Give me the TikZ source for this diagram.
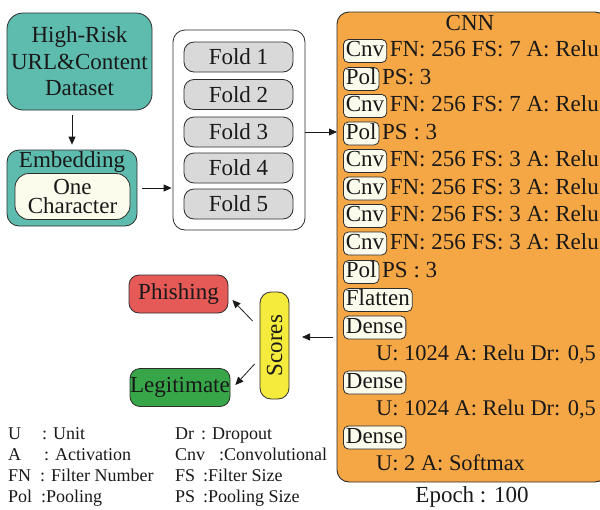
\documentclass[tikz,border=0pt]{standalone}
\usepackage{fontspec}
\setmainfont{Liberation Serif}
\usetikzlibrary{arrows.meta,calc}

\definecolor{dataTeal}{RGB}{94,188,174}
\definecolor{cnnOrange}{RGB}{245,166,69}
\definecolor{phishRed}{RGB}{229,90,87}
\definecolor{legitGreen}{RGB}{55,166,72}
\definecolor{scoreYellow}{RGB}{245,235,60}
\definecolor{creamFill}{RGB}{252,252,236}
\definecolor{foldGrey}{RGB}{217,217,217}
\definecolor{edgeDark}{RGB}{45,45,45}
\definecolor{inkDark}{RGB}{25,25,25}

\newcommand\bigtxt{\fontsize{23}{26.5}\selectfont}
\newcommand\unittxt{\fontsize{22.4}{26}\selectfont}
\newcommand\legtxt{\fontsize{18}{21}\selectfont}

\tikzset{
  box/.style={draw=edgeDark, line width=0.8pt, inner sep=0pt, align=center,
              font=\bigtxt, text=inkDark},
  datasetbox/.style={box, fill=dataTeal, rounded corners=16pt,
              minimum width=145pt, minimum height=97pt},
  embedbox/.style={box, fill=dataTeal, rounded corners=12pt,
              minimum width=130pt, minimum height=76pt},
  onebox/.style={box, fill=creamFill, rounded corners=14pt,
              minimum width=115pt, minimum height=46pt,
              font=\fontsize{23}{19}\selectfont},
  foldframe/.style={box, fill=white, rounded corners=12pt,
              minimum width=132pt, minimum height=200pt},
  foldbox/.style={box, fill=foldGrey, rounded corners=10pt,
              minimum width=109pt, minimum height=30pt},
  cnnframe/.style={draw=edgeDark, line width=0.9pt, fill=cnnOrange,
              rounded corners=12pt},
  lay/.style={box, fill=creamFill, rounded corners=5pt, anchor=west,
              inner xsep=2.5pt, inner ysep=1.5pt,
              text height=15.5pt, text depth=4.5pt},
  laytxt/.style={inner xsep=2.5pt, inner ysep=1.5pt, anchor=west,
              font=\bigtxt, text=inkDark,
              text height=15.5pt, text depth=4.5pt},
  unitline/.style={laytxt, inner xsep=0pt, font=\unittxt},
  plain/.style={inner sep=0pt, font=\bigtxt, text=inkDark},
  classbox/.style={box, rounded corners=10pt, minimum height=38pt},
  legabbr/.style={inner sep=0pt, anchor=base west, font=\legtxt, text=inkDark},
  arr/.style={draw=inkDark, line width=0.8pt,
              -{Triangle[length=8pt,width=7pt]}}
}

\begin{document}
\begin{tikzpicture}[x=1pt, y=-1pt]
\useasboundingbox (0,0) rectangle (600,509);

% input data and embedding
\node[datasetbox] (data) at (79.5,61.5) {High-Risk\\URL\&Content\\Dataset};
\node[embedbox] (emb) at (72,188) {};
\node[plain] (embtitle) at (72,162) {Embedding};
\node[onebox] (onechar) at (72.5,196.5) {One\\Character};

% cross-validation folds
\node[foldframe] (folds) at (239,130) {};
\node[foldbox] (f1) at (238.5,57) {Fold 1};
\node[foldbox] (f2) at (238.5,94.5) {Fold 2};
\node[foldbox] (f3) at (238.5,132) {Fold 3};
\node[foldbox] (f4) at (238.5,168) {Fold 4};
\node[foldbox] (f5) at (238.5,204) {Fold 5};

% CNN block
\draw[cnnframe] (337,12) rectangle (607,482);
\coordinate (cnnW) at (337,132);
\node[plain] (cnntitle) at (470,23) {CNN};

\node[lay] (r1) at (343,51) {Cnv};
\node[laytxt] at (r1.east) {FN: 256 FS: 7 A: Relu};
\node[lay] (r2) at (343,79) {Pol};
\node[laytxt] at (r2.east) {PS: 3};
\node[lay] (r3) at (343,106) {Cnv};
\node[laytxt] at (r3.east) {FN: 256 FS: 7 A: Relu};
\node[lay] (r4) at (343,133.5) {Pol};
\node[laytxt] at (r4.east) {PS : 3};
\node[lay] (r5) at (343,161) {Cnv};
\node[laytxt] at (r5.east) {FN: 256 FS: 3 A: Relu};
\node[lay] (r6) at (343,188.5) {Cnv};
\node[laytxt] at (r6.east) {FN: 256 FS: 3 A: Relu};
\node[lay] (r7) at (343,216) {Cnv};
\node[laytxt] at (r7.east) {FN: 256 FS: 3 A: Relu};
\node[lay] (r8) at (343,243.5) {Cnv};
\node[laytxt] at (r8.east) {FN: 256 FS: 3 A: Relu};
\node[lay] (r9) at (343,272) {Pol};
\node[laytxt] at (r9.east) {PS : 3};
\node[lay] (r10) at (343,300) {Flatten};
\node[lay] (r11) at (343,327.5) {Dense};
\node[unitline] (u1) at (376,355) {U: 1024 A: Relu Dr: 0,5};
\node[lay] (r12) at (343,382.5) {Dense};
\node[unitline] (u2) at (376,410) {U: 1024 A: Relu Dr: 0,5};
\node[lay] (r13) at (343,437.5) {Dense};
\node[unitline] (u3) at (376,465) {U: 2 A: Softmax};

\node[plain] (epoch) at (472,497) {Epoch : 100};

% output scores and classes
\node[box, fill=scoreYellow, rounded corners=11pt, rotate=90,
      minimum width=107pt, minimum height=29pt] (scores) at (274.5,345.5) {Scores};
\node[classbox, fill=phishRed, minimum width=99pt] (phish) at (178.5,294) {Phishing};
\node[classbox, fill=legitGreen, minimum width=100pt] (legit) at (180,387.5) {Legitimate};

% connectors
\draw[arr, shorten <=5pt, shorten >=5pt] (data.south -| 72,0) -- (emb.north);
\draw[arr, shorten <=5pt, shorten >=1pt] (emb.east) -- (folds.west |- emb.east);
\draw[arr] (folds.east |- f3.east) -- (cnnW);
\coordinate (scoreIn) at (302,337);
\draw[arr, shorten <=4pt] (cnnW |- scoreIn) -- (scoreIn);
\draw[arr] ($(scores.north)+(-7,-24.5)$) -- ($(phish.east)+(4,6)$);
\draw[arr] ($(scores.north)+(-5,18.5)$) -- ($(legit.east)+(5,-2.5)$);

% abbreviation key
\node[legabbr] (kU) at (8,439) {U};
\node[legabbr] at (42,439) {: Unit};
\node[legabbr] (kA) at (8,460) {A};
\node[legabbr] at (44,460) {: Activation};
\node[legabbr] (kFN) at (8,481) {FN};
\node[legabbr] at (40,481) {: Filter Number};
\node[legabbr] (kPol) at (8,502) {Pol};
\node[legabbr] at (41,502) {:Pooling};
\node[legabbr] (kDr) at (175,439) {Dr};
\node[legabbr] at (201,439) {: Dropout};
\node[legabbr] (kCnv) at (175,460) {Cnv};
\node[legabbr] at (219,460) {:Convolutional};
\node[legabbr] (kFS) at (175,481) {FS};
\node[legabbr] at (203,481) {:Filter Size};
\node[legabbr] (kPS) at (175,502) {PS};
\node[legabbr] at (203,502) {:Pooling Size};
\end{tikzpicture}
\end{document}
